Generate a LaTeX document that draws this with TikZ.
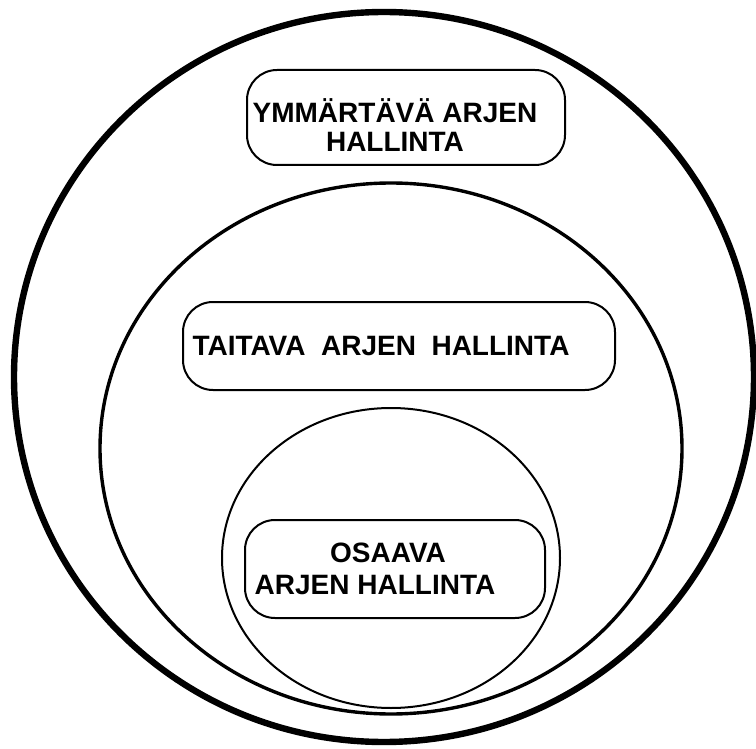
\documentclass[tikz,border=0pt]{standalone}
\usepackage{fontspec}
\setmainfont{Liberation Sans}
\usetikzlibrary{positioning,shapes.geometric}

\begin{document}
\begin{tikzpicture}[
  x=0.5pt, y=-0.5pt,
  every node/.style={font=\fontsize{14}{16}\selectfont\bfseries},
  ring/.style={ellipse, draw, inner sep=0pt},
  level/.style={rectangle, rounded corners=15pt, draw, line width=1pt,
                align=center, inner sep=0pt}
]
\useasboundingbox (0,0) rectangle (756,749);

% the three nested areas
\node[ring, line width=3.2pt, minimum width=370pt, minimum height=365pt] (outer)  at (384,377) {};
\node[ring, line width=1.7pt, minimum width=291pt, minimum height=265.5pt] (middle) at (391,448.5) {};
\node[ring, line width=1pt,   minimum width=169pt, minimum height=150pt] (inner)  at (391,558) {};

% one box per level, text kept a little left as in the original
\node[level, minimum width=159pt, minimum height=47.5pt] (ymm) at (406,117.5)
  {\rule{0pt}{20pt}YMMÄRTÄVÄ ARJEN\hspace*{11pt}\\[-1.5pt]HALLINTA\hspace*{11pt}};
\node[level, minimum width=216pt, minimum height=44pt]   (tai) at (399,346)
  {TAITAVA \ ARJEN \ HALLINTA\hspace*{18pt}};
\node[level, minimum width=150pt, minimum height=49pt]   (osa) at (395,569)
  {OSAAVA\hspace*{7pt}\\ARJEN HALLINTA\hspace*{20pt}};

\end{tikzpicture}
\end{document}
